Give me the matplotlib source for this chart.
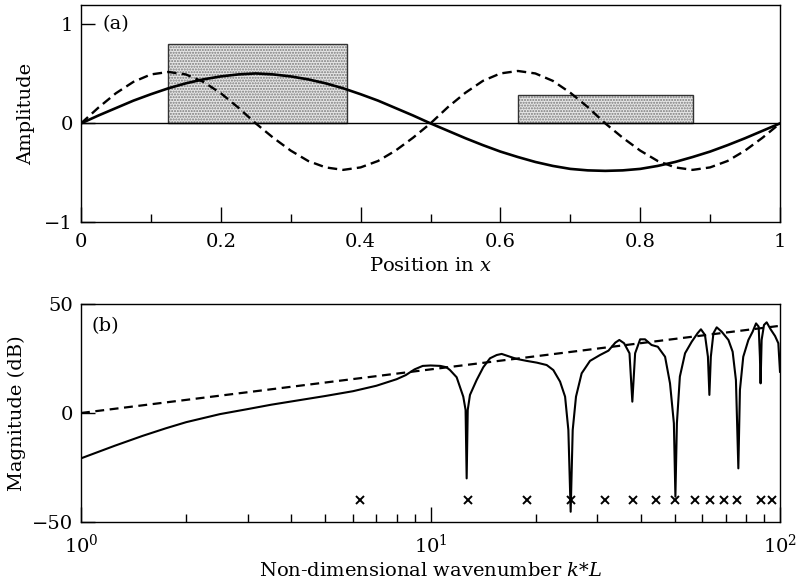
import matplotlib
matplotlib.use("Agg")
import matplotlib.pyplot as plt
from matplotlib.ticker import FixedLocator, NullFormatter, LogLocator

plt.rcParams['font.family'] = ['DejaVu Serif']
plt.rcParams['mathtext.fontset'] = 'dejavuserif'

# ---------------- panel (a) data ----------------
pos_x = [0.0, 0.025, 0.05, 0.075, 0.1, 0.125, 0.15, 0.175, 0.2, 0.225, 0.25,
         0.275, 0.3, 0.325, 0.35, 0.375, 0.4, 0.425, 0.45, 0.475, 0.5,
         0.525, 0.55, 0.575, 0.6, 0.625, 0.65, 0.675, 0.7, 0.725, 0.75,
         0.775, 0.8, 0.825, 0.85, 0.875, 0.9, 0.925, 0.95, 0.975, 1.0]
mode1 = [0.0, 0.08, 0.155, 0.23, 0.295, 0.355, 0.405, 0.445, 0.475, 0.495, 0.505,
         0.495, 0.475, 0.445, 0.405, 0.355, 0.295, 0.23, 0.155, 0.08, 0.0,
         -0.075, -0.15, -0.22, -0.285, -0.34, -0.39, -0.43, -0.46, -0.475, -0.48,
         -0.475, -0.46, -0.43, -0.39, -0.34, -0.285, -0.22, -0.15, -0.075, 0.0]
mode2 = [0.0, 0.16, 0.305, 0.42, 0.495, 0.52, 0.495, 0.42, 0.305, 0.16, 0.0,
         -0.145, -0.275, -0.38, -0.445, -0.47, -0.445, -0.38, -0.275, -0.145, 0.0,
         0.165, 0.31, 0.43, 0.505, 0.53, 0.505, 0.43, 0.31, 0.165, 0.0,
         -0.145, -0.275, -0.38, -0.445, -0.47, -0.445, -0.38, -0.275, -0.145, 0.0]
patch_start = [0.125, 0.625]
patch_end = [0.38, 0.875]
patch_height = [0.8, 0.29]
pos_ticks = [0, 0.2, 0.4, 0.6, 0.8, 1]
pos_tick_labels = ['0', '0.2', '0.4', '0.6', '0.8', '1']
pos_minor_ticks = [0.1, 0.3, 0.5, 0.7, 0.9]

# ---------------- panel (b) data ----------------
wavenumber = [1.0, 1.25, 1.5, 1.75, 2.0, 2.5, 3.0, 3.5, 4.0, 5.0, 6.0, 7.0, 8.0,
              8.5, 9.0, 9.5, 10.0, 10.67, 11.1, 11.37, 11.88, 12.41, 12.6, 12.69,
              12.78, 12.97, 13.55, 14.16, 14.8, 15.47, 15.98, 16.89, 17.65, 18.85,
              20.15, 21.5, 22.46, 23.48, 24.27, 24.8, 25.18, 25.52, 26.08, 27.07,
              28.6, 30.55, 32.3, 33.8, 34.7, 35.8, 37.1, 37.8, 38.5, 39.8, 41.1,
              42.9, 44.7, 46.9, 48.45, 49.7, 50.2, 50.7, 51.7, 53.5, 55.9, 58.1,
              59.4, 61.0, 62.2, 62.8, 63.4, 64.5, 65.9, 68.1, 71.2, 73.2, 74.8,
              76.0, 76.8, 78.5, 81.2, 83.5, 85.4, 86.9, 87.6, 88.0, 88.6, 90.0,
              91.6, 94.0, 96.8, 98.9, 100.0]
magnitude = [-20.8, -15.0, -10.5, -7.0, -4.2, -0.5, 1.8, 3.8, 5.3, 7.8, 10.0, 12.5, 15.5,
             17.4, 20.0, 21.6, 21.8, 21.6, 21.0, 19.7, 16.4, 7.5, 1.4, -30.0,
             1.4, 8.3, 15.1, 21.0, 25.1, 26.6, 27.1, 25.8, 24.8, 23.9,
             23.1, 22.0, 19.7, 14.4, 7.5, -7.8, -45.3, -7.8, 7.5, 18.2,
             23.9, 26.6, 28.6, 32.3, 33.5, 32.0, 27.4, 5.2, 27.4, 33.8, 33.8,
             31.2, 30.4, 25.8, 13.6, -4.7, -38.4, -4.7, 16.7, 27.4, 32.7, 36.6,
             38.4, 35.8, 25.8, 8.3, 25.8, 36.6, 39.3, 37.3, 33.5, 28.1, 15.1,
             -25.4, 10.6, 25.8, 33.5, 37.3, 41.1, 39.6, 25.8, 13.6, 33.5, 40.4,
             41.6, 38.4, 35.3, 32.0, 18.9]
trend_k = [1.0, 100.0]
trend_db = [0.0, 40.0]
cross_k = [6.29, 12.78, 18.85, 25.2, 31.6, 38.0, 44.2, 50.2, 57.0, 63.0, 69.2,
           75.2, 88.1, 94.7]
cross_db = [-40.0] * len(cross_k)
k_ticks = [1, 10, 100]
k_tick_labels = ['$10^0$', '$10^1$', '$10^2$']

fig = plt.figure(figsize=(7.96, 5.86), dpi=100)

# ---------------- panel (a) ----------------
ax1 = fig.add_axes([81/796, 1-222.3/586, 699/796, (222.3-4.7)/586])
widths = [e - s for s, e in zip(patch_start, patch_end)]
ax1.bar(patch_start, patch_height, width=widths, align='edge',
        color='#e6e6e6', edgecolor='#7a7a7a', hatch='......', linewidth=0, zorder=1)
ax1.bar(patch_start, patch_height, width=widths, align='edge',
        fill=False, edgecolor='#333333', linewidth=1.0, zorder=2)
ax1.axhline(0, color='black', linewidth=1.0, zorder=2)
ax1.plot(pos_x, mode1, color='black', linewidth=1.9, zorder=3)
ax1.plot(pos_x, mode2, color='black', linewidth=1.7, linestyle=(0, (4, 2.2)), zorder=3)
ax1.set_xlim(0, 1)
ax1.set_ylim(-1, 1.2)
ax1.set_xticks(pos_ticks)
ax1.set_xticklabels(pos_tick_labels)
ax1.set_xticks(pos_minor_ticks, minor=True)
ax1.set_yticks([-1, 0, 1])
ax1.set_yticklabels(['\u22121', '0', '1'])
ax1.tick_params(axis='x', which='major', direction='in', length=11, width=1, pad=8)
ax1.tick_params(axis='x', which='minor', direction='in', length=6, width=1)
ax1.tick_params(axis='y', which='major', direction='in', length=10, width=1, pad=6)
ax1.tick_params(labelsize=14)
ax1.set_xlabel('Position in $x$', fontsize=14, labelpad=4)
ax1.set_ylabel('Amplitude', fontsize=14, labelpad=6)
ax1.text(0.031, 1.0, '(a)', fontsize=14, va='center', ha='left')
for s in ax1.spines.values():
    s.set_linewidth(1.0)

# ---------------- panel (b) ----------------
ax2 = fig.add_axes([81/796, 1-522/586, 699/796, (522-304)/586])
ax2.plot(wavenumber, magnitude, color='black', linewidth=1.5, zorder=3)
ax2.plot(trend_k, trend_db, color='black', linewidth=1.6, linestyle=(0, (4, 2.5)), zorder=2)
ax2.plot(cross_k, cross_db, linestyle='none', marker='x', color='black',
         markersize=6, markeredgewidth=1.4, zorder=4)
ax2.set_xscale('log')
ax2.set_xlim(1, 100)
ax2.set_ylim(-50, 50)
ax2.set_yticks([-50, 0, 50])
ax2.set_yticklabels(['\u221250', '0', '50'])
ax2.xaxis.set_major_locator(FixedLocator(k_ticks))
ax2.xaxis.set_minor_locator(LogLocator(base=10, subs=range(2, 10)))
ax2.xaxis.set_minor_formatter(NullFormatter())
ax2.set_xticklabels(k_tick_labels)
ax2.tick_params(axis='x', which='major', direction='in', length=11, width=1, pad=8)
ax2.tick_params(axis='x', which='minor', direction='in', length=6, width=1)
ax2.tick_params(axis='y', which='major', direction='in', length=10, width=1, pad=6)
ax2.tick_params(labelsize=14)
ax2.set_xlabel('Non-dimensional wavenumber $k$*$L$', fontsize=14, labelpad=4)
ax2.set_ylabel('Magnitude (dB)', fontsize=14, labelpad=4)
ax2.text(1.07, 40, '(b)', fontsize=14, va='center', ha='left')
for s in ax2.spines.values():
    s.set_linewidth(1.0)

fig.savefig('out.png', dpi=100)
